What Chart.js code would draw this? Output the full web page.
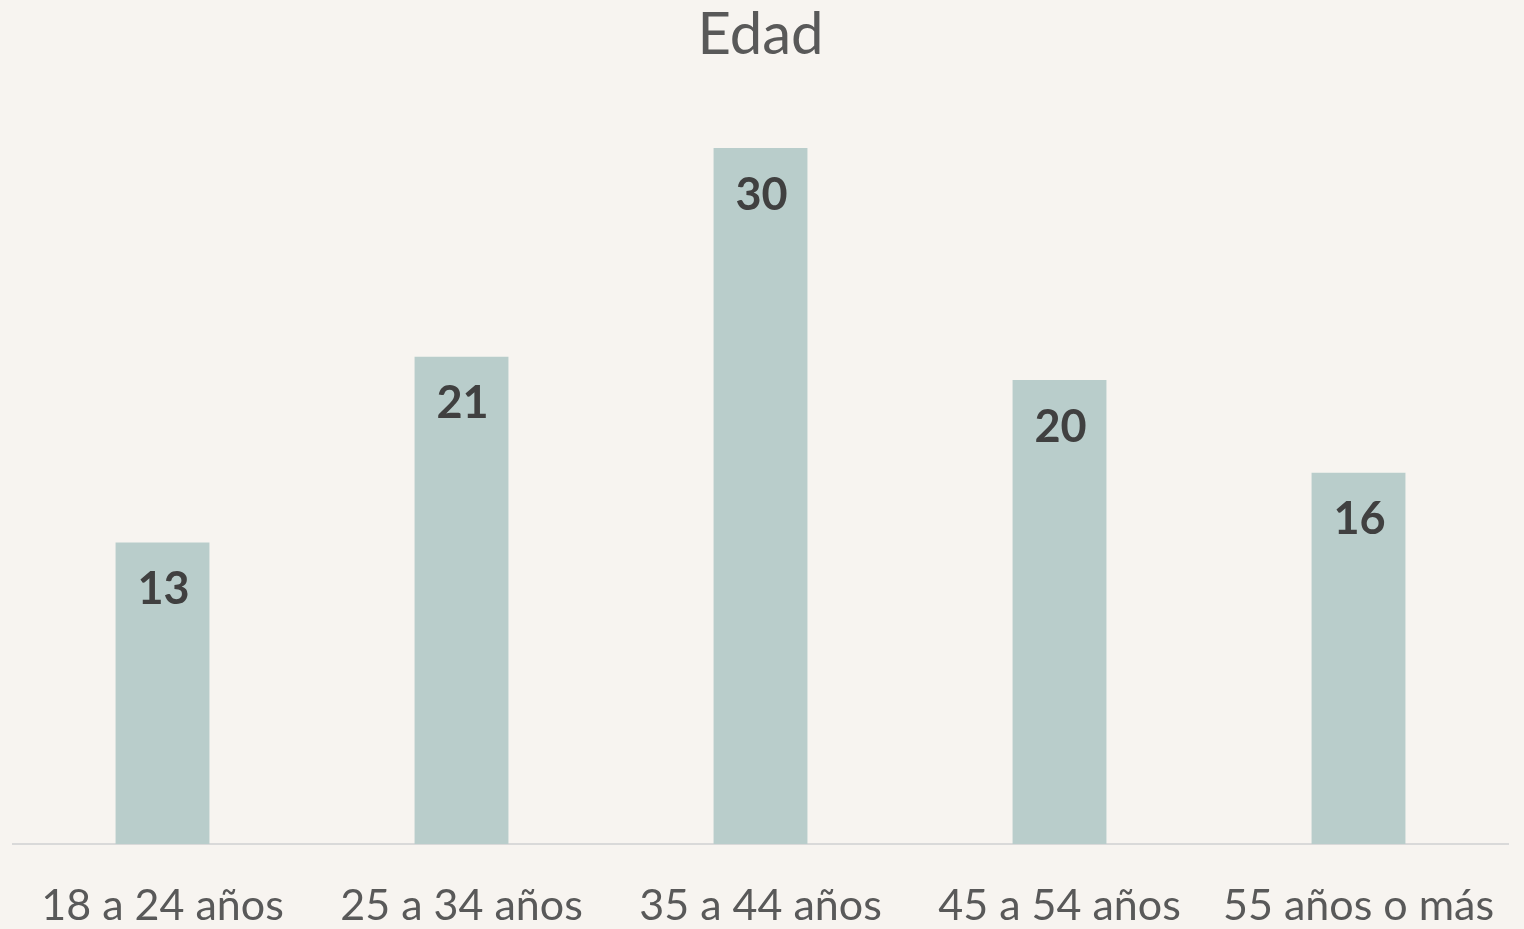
<!DOCTYPE html>
<html lang="es">
<head>
<meta charset="utf-8">
<title>Edad</title>
<script src="https://cdn.jsdelivr.net/npm/chart.js@4"></script>
<style>
  html, body { margin: 0; padding: 0; background: #F7F4F0; overflow: hidden; }
  #wrap { width: 1524px; height: 929px; }
  canvas { display: block; }
</style>
</head>
<body>
<div id="wrap"><canvas id="chart" width="1524" height="929"></canvas></div>
<script>
// rangos de edad y porcentaje de personas en cada uno
const rangos = ["18 a 24 años", "25 a 34 años", "35 a 44 años", "45 a 54 años", "55 años o más"];
const valores = [13, 21, 30, 20, 16];

const colorBarra = "#B9CDCB";
const colorTexto = "#595959";

// etiqueta con el valor dentro de cada barra, cerca del borde superior
const etiquetasValor = {
  id: "etiquetasValor",
  afterDatasetsDraw(chart) {
    const { ctx } = chart;
    const meta = chart.getDatasetMeta(0);
    ctx.save();
    ctx.font = "bold 45px Lato";
    ctx.fillStyle = "#404040";
    ctx.textAlign = "center";
    ctx.textBaseline = "middle";
    meta.data.forEach((barra, i) => {
      ctx.fillText(valores[i], barra.x + 1, barra.y + 47);
    });
    ctx.restore();
  },
};

const ctx = document.getElementById("chart").getContext("2d");

new Chart(ctx, {
  type: "bar",
  data: {
    labels: rangos,
    datasets: [
      {
        label: "Edad",
        data: valores,
        backgroundColor: colorBarra,
        barPercentage: 0.314,
        categoryPercentage: 1,
      },
    ],
  },
  options: {
    responsive: false,
    animation: false,
    layout: {
      autoPadding: false,
      padding: { left: 13, right: 16, top: 0, bottom: 0 },
    },
    plugins: {
      legend: { display: false },
      tooltip: { enabled: false },
      title: {
        display: true,
        text: "Edad",
        color: colorTexto,
        font: { family: "Lato", size: 58, weight: "normal", lineHeight: 1.2 },
        padding: { top: 0, bottom: 78.4 },
      },
    },
    scales: {
      x: {
        grid: { display: false, drawTicks: false },
        border: { display: true, color: "#D9D9D9", width: 2 },
        ticks: {
          color: colorTexto,
          font: { family: "Lato", size: 43, lineHeight: 1.2 },
          padding: 36,
          maxRotation: 0,
        },
        // alto fijo del eje y sin márgenes extra por las etiquetas
        afterFit(scale) {
          scale.height = 85;
          scale.paddingLeft = 0;
          scale.paddingRight = 0;
        },
      },
      y: {
        display: false,
        min: 0,
        max: 30,
      },
    },
  },
  plugins: [etiquetasValor],
});
</script>
</body>
</html>
